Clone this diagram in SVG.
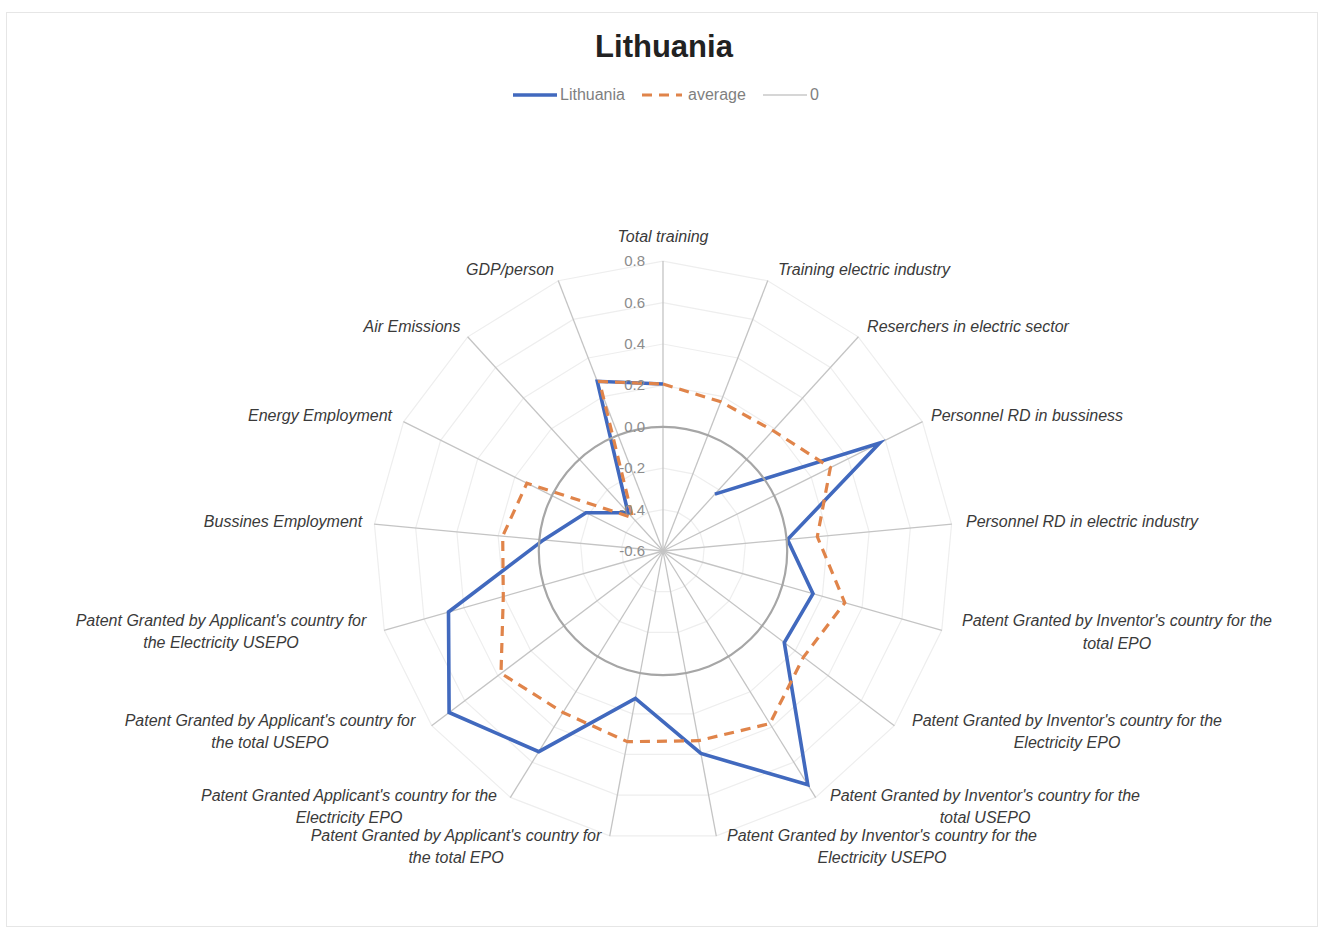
<svg xmlns="http://www.w3.org/2000/svg" xmlns:xlink="http://www.w3.org/1999/xlink" width="1321" height="932" viewBox="0 0 1321 932">
<style>
.cat{font-family:"Liberation Sans",Arial,sans-serif;font-style:italic;font-size:16px;fill:#3A3A3A;text-anchor:middle}
.val{font-family:"Liberation Sans",Arial,sans-serif;font-size:15px;fill:#8C8C8C;text-anchor:end}
.leg{font-family:"Liberation Sans",Arial,sans-serif;font-size:16px;fill:#7F7F7F}
.grid{fill:none;stroke:#EEEEEE;stroke-width:1.2}
.spoke{stroke:#C4C4C4;stroke-width:1.3}
.blue{fill:none;stroke:#4169BE;stroke-width:3.6;stroke-linejoin:miter}
.orange{fill:none;stroke:#E0844A;stroke-width:3.2;stroke-dasharray:10 7}
.zero{fill:none;stroke:#A6A6A6;stroke-width:2.2}
</style>
<defs>
<polygon id="ring" vector-effect="non-scaling-stroke" points="0,-100 36.124,-93.247 67.370,-73.901 89.516,-44.573 99.573,-9.227 96.183,27.366 79.802,60.263 52.643,85.022 18.375,98.297 -18.375,98.297 -52.643,85.022 -79.802,60.263 -96.183,27.366 -99.573,-9.227 -89.516,-44.573 -67.370,-73.901 -36.124,-93.247"/>
</defs>
<rect x="0" y="0" width="1321" height="932" fill="#FFFFFF"/>
<rect x="6.5" y="12.5" width="1311" height="914" fill="none" stroke="#E6E6E6" stroke-width="1"/>

<g id="title">
<text x="664" y="57" font-family="'Liberation Sans',Arial,sans-serif" font-weight="bold" font-size="31" fill="#222222" text-anchor="middle">Lithuania</text>
</g>

<g id="legend">
<line x1="513" y1="95" x2="557" y2="95" stroke="#4169BE" stroke-width="3.6"/>
<text class="leg" x="560" y="100">Lithuania</text>
<line x1="642" y1="95" x2="682" y2="95" class="orange"/>
<text class="leg" x="688" y="100">average</text>
<line x1="763" y1="95" x2="807" y2="95" stroke="#C8C8C8" stroke-width="1.5"/>
<text class="leg" x="810" y="100">0</text>
</g>

<g id="gridrings">
<use xlink:href="#ring" href="#ring" class="grid" transform="translate(663 551) scale(0.414)"/>
<use xlink:href="#ring" href="#ring" class="grid" transform="translate(663 551) scale(0.828)"/>
<use xlink:href="#ring" href="#ring" class="grid" transform="translate(663 551) scale(1.656)"/>
<use xlink:href="#ring" href="#ring" class="grid" transform="translate(663 551) scale(2.07)"/>
<use xlink:href="#ring" href="#ring" class="grid" transform="translate(663 551) scale(2.484)"/>
<use xlink:href="#ring" href="#ring" class="grid" transform="translate(663 551) scale(2.898)"/>
</g>

<g id="spokes">
<line class="spoke" x1="663" y1="551" x2="663" y2="261"/>
<line class="spoke" x1="663" y1="551" x2="767.8" y2="280.6"/>
<line class="spoke" x1="663" y1="551" x2="858.4" y2="336.7"/>
<line class="spoke" x1="663" y1="551" x2="922.6" y2="421.7"/>
<line class="spoke" x1="663" y1="551" x2="951.8" y2="524.2"/>
<line class="spoke" x1="663" y1="551" x2="941.9" y2="630.4"/>
<line class="spoke" x1="663" y1="551" x2="894.4" y2="725.8"/>
<line class="spoke" x1="663" y1="551" x2="815.7" y2="797.6"/>
<line class="spoke" x1="663" y1="551" x2="716.3" y2="836.1"/>
<line class="spoke" x1="663" y1="551" x2="609.7" y2="836.1"/>
<line class="spoke" x1="663" y1="551" x2="510.3" y2="797.6"/>
<line class="spoke" x1="663" y1="551" x2="431.6" y2="725.8"/>
<line class="spoke" x1="663" y1="551" x2="384.1" y2="630.4"/>
<line class="spoke" x1="663" y1="551" x2="374.2" y2="524.2"/>
<line class="spoke" x1="663" y1="551" x2="403.4" y2="421.7"/>
<line class="spoke" x1="663" y1="551" x2="467.6" y2="336.7"/>
<line class="spoke" x1="663" y1="551" x2="558.2" y2="280.6"/>
</g>

<g id="series-lithuania">
<polyline class="blue" points="714.9,494.1 879.6,443.1 787.5,539.5 813.0,593.7 784.3,642.6 807.8,784.8 700.9,753.5 635.4,698.4 538.8,751.7 449.1,712.5 448.5,612.0 543.5,539.9 586.0,512.7 628.0,512.6 597.3,381.3 663,384"/>
</g>

<g id="series-average">
<polygon class="orange" points="663,384 720.8,401.8 772.8,430.5 830.4,467.6 817.3,536.7 844.8,602.7 803.5,657.1 769.9,723.6 698.5,740.7 627.4,741.7 563.0,712.5 501.0,673.3 503.3,596.4 502.7,536.1 526.9,483.2 632.7,517.7 599.5,381.5"/>
</g>

<g id="series-zero">
<circle class="zero" cx="663" cy="551" r="124.2"/>
</g>

<g id="value-axis">
<text class="val" x="645" y="266">0.8</text>
<text class="val" x="645" y="308">0.6</text>
<text class="val" x="645" y="349">0.4</text>
<text class="val" x="645" y="390">0.2</text>
<text class="val" x="645" y="432">0.0</text>
<text class="val" x="645" y="473">-0.2</text>
<text class="val" x="645" y="515">-0.4</text>
<text class="val" x="645" y="556">-0.6</text>
</g>

<g id="category-labels">
<text class="cat" x="663" y="242">Total training</text>
<text class="cat" x="864" y="275">Training electric industry</text>
<text class="cat" x="968" y="332">Reserchers in electric sector</text>
<text class="cat" x="1027" y="421">Personnel RD in bussiness</text>
<text class="cat" x="1082" y="527">Personnel RD in electric industry</text>
<text class="cat" x="1117" y="626">Patent Granted by Inventor's country for the</text>
<text class="cat" x="1117" y="649">total EPO</text>
<text class="cat" x="1067" y="726">Patent Granted by Inventor's country for the</text>
<text class="cat" x="1067" y="748">Electricity EPO</text>
<text class="cat" x="985" y="801">Patent Granted by Inventor's country for the</text>
<text class="cat" x="985" y="823">total USEPO</text>
<text class="cat" x="882" y="841">Patent Granted by Inventor's country for the</text>
<text class="cat" x="882" y="863">Electricity USEPO</text>
<text class="cat" x="456" y="841">Patent Granted by Applicant's country for</text>
<text class="cat" x="456" y="863">the total EPO</text>
<text class="cat" x="349" y="801">Patent Granted Applicant's country for the</text>
<text class="cat" x="349" y="823">Electricity EPO</text>
<text class="cat" x="270" y="726">Patent Granted by Applicant's country for</text>
<text class="cat" x="270" y="748">the total USEPO</text>
<text class="cat" x="221" y="626">Patent Granted by Applicant's country for</text>
<text class="cat" x="221" y="648">the Electricity USEPO</text>
<text class="cat" x="283" y="527">Bussines Employment</text>
<text class="cat" x="320" y="421">Energy Employment</text>
<text class="cat" x="412" y="332">Air Emissions</text>
<text class="cat" x="510" y="275">GDP/person</text>
</g>
</svg>
